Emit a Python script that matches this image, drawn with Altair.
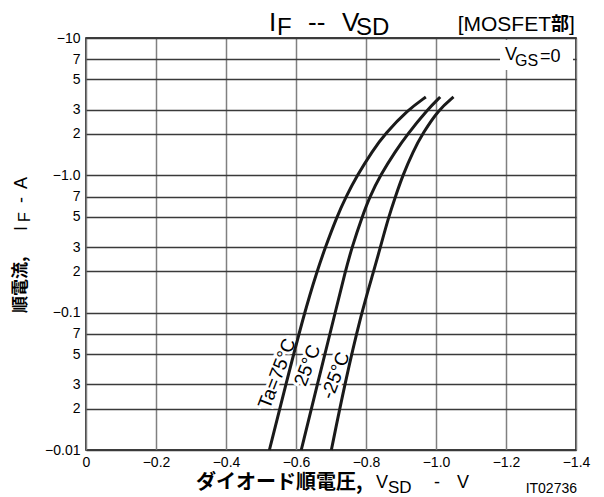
import altair as alt
import pandas as pd

# ---- data (forward voltage magnitude V, current magnitude A)
currents = [0.01, 0.03, 0.1, 0.2, 0.3, 0.5, 0.7, 1.0, 1.5, 2.0, 3.0, 3.72]
v_75 = [0.524, 0.571, 0.624, 0.660, 0.684, 0.717, 0.743, 0.775, 0.818, 0.854, 0.920, 0.971]
v_25 = [0.615, 0.661, 0.712, 0.741, 0.760, 0.789, 0.811, 0.841, 0.884, 0.919, 0.975, 1.012]
v_m25 = [0.701, 0.739, 0.787, 0.822, 0.841, 0.865, 0.884, 0.905, 0.935, 0.961, 1.007, 1.050]
series = ["75", "25", "-25"]

curve_labels = ["Ta=75°C", "25°C", "-25°C"]
curve_label_v = [0.546, 0.633, 0.713]
curve_label_i = [0.036, 0.0413, 0.0349]

x_ticks = [0, 0.2, 0.4, 0.6, 0.8, 1.0, 1.2, 1.4]
x_tick_labels = ["0", "−0.2", "−0.4", "−0.6", "−0.8", "−1.0", "−1.2", "−1.4"]
y_ticks = [0.01, 0.02, 0.03, 0.05, 0.07, 0.1, 0.2, 0.3, 0.5, 0.7, 1, 2, 3, 5, 7, 10]
y_tick_labels = ["−0.01", "2", "3", "5", "7", "−0.1", "2", "3", "5", "7",
                 "−1.0", "2", "3", "5", "7", "−10"]

FONT = "Liberation Sans"
JFONT = "Noto Sans CJK JP"

rows = []
for name, vs in [(series[0], v_75), (series[1], v_25), (series[2], v_m25)]:
    for v, c in zip(vs, currents):
        rows.append({"V": v, "I": c, "s": name})
curves = pd.DataFrame(rows)
labels_df = pd.DataFrame({"V": curve_label_v, "I": curve_label_i, "t": curve_labels})


def expr(vals, labs):
    parts = [f"datum.value == {v} ? '{l}'" for v, l in zip(vals, labs)]
    return " : ".join(parts) + " : ''"


xenc = alt.X("V:Q", scale=alt.Scale(domain=[0, 1.4], nice=False, zero=False),
             axis=alt.Axis(values=x_ticks, labelExpr=expr(x_ticks, x_tick_labels), title=None,
                           grid=True, gridColor="#808080", gridWidth=1.5, ticks=False,
                           domain=False, labelFont=FONT, labelFontSize=14, labelColor="black",
                           labelPadding=5, labelFlush=False))
yenc = alt.Y("I:Q", scale=alt.Scale(type="log", domain=[0.01, 10], nice=False),
             axis=alt.Axis(values=y_ticks, labelExpr=expr(y_ticks, y_tick_labels), title=None,
                           grid=True, gridColor="#3a3a3a", gridWidth=1.3, ticks=False,
                           domain=False, labelFont=FONT, labelFontSize=14, labelColor="black",
                           labelPadding=6, labelFlush=False))

halo = alt.Chart(labels_df).mark_text(font=FONT, fontSize=19, angle=291, color="white",
                                      stroke="white", strokeWidth=6).encode(x=xenc, y=yenc, text="t:N")
lines = alt.Chart(curves).mark_line(color="#1a1a1a", strokeWidth=3, interpolate="basis").encode(
    x=xenc, y=yenc, detail="s:N", order="V:Q")
ltext = alt.Chart(labels_df).mark_text(font=FONT, fontSize=19, angle=291, color="black").encode(
    x=xenc, y=yenc, text="t:N")

# view coordinates: view origin is at page (86, 38)
OX, OY = 86, 38


def txt(s, px, py, size, bold=False, font=FONT, angle=0, align="left", baseline="alphabetic"):
    return alt.Chart(pd.DataFrame({"t": [s]})).mark_text(
        font=font, fontSize=size, fontWeight="bold" if bold else "normal", angle=angle,
        align=align, baseline=baseline, color="black").encode(
        x=alt.value(px - OX), y=alt.value(py - OY), text="t:N")


box = alt.Chart(pd.DataFrame({"a": [0]})).mark_rect(color="white").encode(
    x=alt.value(500 - OX), x2=alt.value(573 - OX), y=alt.value(40 - OY), y2=alt.value(70 - OY))

annotations = [
    # title  I_F -- V_SD
    txt("I", 269, 31, 26), txt("F", 277, 35, 24), txt("--", 308, 31, 26),
    txt("V", 342, 31, 26), txt("SD", 356, 35, 24),
    txt("[MOSFET", 551, 31, 21, align="right"), txt("部", 551, 30, 18, bold=True, font=JFONT),
    txt("]", 569, 31, 21),
    # V_GS=0
    txt("V", 505, 60, 18), txt("GS", 515, 66, 16), txt("=0", 540, 62, 18),
    # x axis title
    txt("ダイオード順電圧,", 196, 489, 20, bold=True, font=JFONT),
    txt("V", 376, 488, 18), txt("SD", 388, 493, 17), txt("-", 434, 488, 18), txt("V", 457, 488, 18),
    txt("IT02736", 577, 493, 14, align="right"),
    # y axis title (rotated)
    txt("順電流,", 26, 313, 17, bold=True, font=JFONT, angle=270),
    txt("I", 27, 231, 18, angle=270), txt("F", 30, 222, 16, angle=270),
    txt("-", 27, 203, 18, angle=270), txt("A", 27, 189, 18, angle=270),
]

chart = alt.layer(halo, box, lines, ltext, *annotations).properties(
    width=490, height=412,
    autosize=alt.AutoSizeParams(type="none"),
    padding={"left": 78, "top": 30, "right": 20, "bottom": 45},
    background="white",
).configure_view(stroke="black", strokeWidth=1.5)

chart.save("out.html", embed_options={"renderer": "svg", "actions": False})
